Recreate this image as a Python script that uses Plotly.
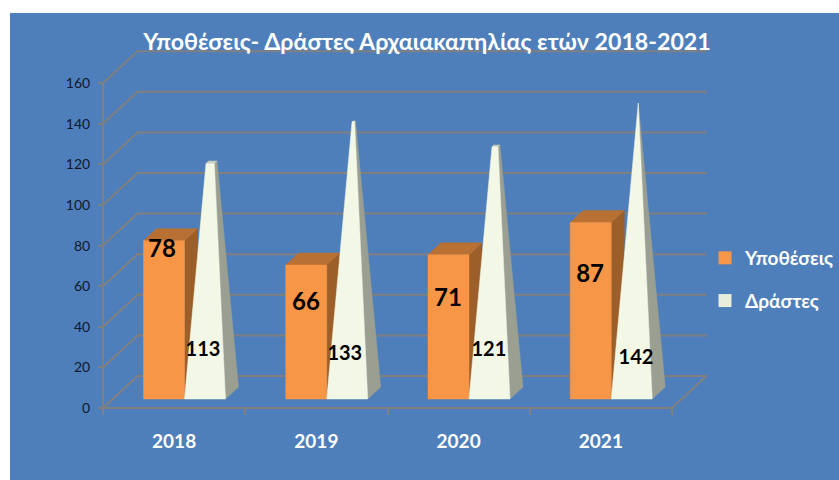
import plotly.graph_objects as go

years = ["2018", "2019", "2020", "2021"]
cases = [78, 66, 71, 87]          # Υποθέσεις
offenders = [113, 133, 121, 142]  # Δράστες
y_ticks = [0, 20, 40, 60, 80, 100, 120, 140, 160]
title = "Υποθέσεις- Δράστες Αρχαιακαπηλίας ετών 2018-2021"

W, H = 839, 480
X0_PX, CAT_PX = 103.0, 142.25
Y0_PX, UNIT_PX = 408.0, 2.03
FONT = "Lato, 'Noto Sans', sans-serif"

GRID = "#808080"
BLUE = "#4E7FBB"
OR_F, OR_S, OR_T = "#F79646", "#9C5F2A", "#B97033"
WH_F, WH_S, WH_T = "#F3F8E6", "#9A9F92", "#C6CBBB"

# projection depth, as data-space offsets
WALL_DX, WALL_DY = 34.5 / CAT_PX, 32 / UNIT_PX
BAR_DX, BAR_DY = 13 / CAT_PX, 12 / UNIT_PX
BASE = 9 / UNIT_PX
BAR_W = 41 / CAT_PX
BAR_L = 40.5 / CAT_PX
PYR_SCALE = 1.027


def poly(store, pts):
    for px, py in pts:
        store[0].append(px)
        store[1].append(py)
    store[0].append(pts[0][0]); store[1].append(pts[0][1])
    store[0].append(None); store[1].append(None)


fig = go.Figure()

# walls and floor
n = len(years)
gx, gy = [], []
for t in y_ticks:
    gx += [0, WALL_DX, n + WALL_DX, None]
    gy += [t, t + WALL_DY, t + WALL_DY, None]
gx += [0, n, n + WALL_DX, None, 0, 0]
gy += [0, 0, WALL_DY, None, 0, y_ticks[-1]]
fig.add_trace(go.Scatter(x=gx, y=gy, mode="lines", line=dict(color=GRID, width=2),
                         showlegend=False, hoverinfo="skip"))

# orange boxes
of, os_, ot = ([], []), ([], []), ([], [])
for i, v in enumerate(cases):
    a, b = i + BAR_L, i + BAR_L + BAR_W
    top = BASE + v
    poly(of, [(a, BASE), (b, BASE), (b, top), (a, top)])
    poly(os_, [(b, BASE), (b + BAR_DX, BASE + BAR_DY), (b + BAR_DX, top + BAR_DY), (b, top)])
    poly(ot, [(a, top), (b, top), (b + BAR_DX, top + BAR_DY), (a + BAR_DX, top + BAR_DY)])

# pyramids, cut at each value relative to the tallest one
wf, ws, wt = ([], []), ([], []), ([], [])
peak = max(offenders)
apex_y = BASE + peak * PYR_SCALE


def toward(p, apex, t):
    return (p[0] + (apex[0] - p[0]) * t, p[1] + (apex[1] - p[1]) * t)


for i, v in enumerate(offenders):
    a, b = i + BAR_L + BAR_W, i + BAR_L + 2 * BAR_W
    apex = ((a + b) / 2 + BAR_DX / 2, apex_y)
    t = v / peak
    fl, fr = (a, BASE), (b, BASE)
    br, bl = (b + BAR_DX, BASE + BAR_DY), (a + BAR_DX, BASE + BAR_DY)
    tfl, tfr, tbr, tbl = [toward(p, apex, t) for p in (fl, fr, br, bl)]
    poly(ws, [fr, br, tbr, tfr])
    poly(wt, [tfl, tfr, tbr, tbl])
    poly(wf, [fl, fr, tfr, tfl])

for store, color in [(os_, OR_S), (ot, OR_T), (of, OR_F), (ws, WH_S), (wt, WH_T), (wf, WH_F)]:
    fig.add_trace(go.Scatter(x=store[0], y=store[1], mode="lines", fill="toself",
                             fillcolor=color, line=dict(color=color, width=0.5),
                             showlegend=False, hoverinfo="skip"))

# value labels
case_label_pos = [(0.415, 77.1), (0.427, 51.0), (0.425, 53.0), (0.424, 64.8)]
off_label_pos = [(0.703, 28.2), (0.70, 26.2), (0.713, 28.2), (0.747, 24.2)]
fig.add_trace(go.Scatter(
    x=[i + p[0] for i, p in enumerate(case_label_pos)], y=[p[1] for p in case_label_pos],
    text=[str(v) for v in cases], mode="text",
    textfont=dict(family=FONT, size=24, color="black", weight="bold"),
    showlegend=False, hoverinfo="skip"))
fig.add_trace(go.Scatter(
    x=[i + p[0] for i, p in enumerate(off_label_pos)], y=[p[1] for p in off_label_pos],
    text=[str(v) for v in offenders], mode="text",
    textfont=dict(family=FONT, size=20, color="black", weight="bold"),
    showlegend=False, hoverinfo="skip"))

# legend entries
for name, color in [("Υποθέσεις", OR_F), ("Δράστες", "#E9EEDC")]:
    fig.add_trace(go.Scatter(x=[None], y=[None], mode="markers", name=name, legendgroup=name,
                             marker=dict(symbol="square", size=13, color=color)))

x_range = [-X0_PX / CAT_PX, (W - X0_PX) / CAT_PX]
y_range = [-(H - Y0_PX) / UNIT_PX, Y0_PX / UNIT_PX]

fig.update_layout(
    width=W, height=H, autosize=False,
    margin=dict(l=0, r=0, t=0, b=0, autoexpand=False),
    paper_bgcolor="white", plot_bgcolor="rgba(0,0,0,0)",
    font=dict(family=FONT),
    title=dict(text=title, x=427 / W, xanchor="center", y=1 - 42 / H, yanchor="middle",
               font=dict(family=FONT, size=23.2, color="white", weight="bold")),
    xaxis=dict(range=x_range, domain=[0, 1], anchor="free", position=1 - Y0_PX / H,
               showgrid=False, zeroline=False, showline=False,
               tickmode="array", tickvals=[i + 0.5 for i in range(n)], ticktext=years,
               ticks="outside", ticklen=16, tickcolor="rgba(0,0,0,0)",
               tickfont=dict(family=FONT, size=19, color="white", weight="bold"),
               minor=dict(tickmode="array", tickvals=list(range(n + 1)), ticks="outside",
                          ticklen=6, tickwidth=2, tickcolor=GRID, showgrid=False)),
    yaxis=dict(range=y_range, domain=[0, 1], anchor="free", position=X0_PX / W,
               showgrid=False, zeroline=False, showline=False,
               tickmode="array", tickvals=y_ticks, ticktext=[str(t) for t in y_ticks],
               ticks="outside", ticklen=5, tickwidth=2, tickcolor=GRID, ticklabelstandoff=5,
               tickfont=dict(family=FONT, size=14, color="#10192B")),
    legend=dict(x=705 / W, xanchor="left", y=1 - 239 / H, yanchor="top",
                bgcolor="rgba(0,0,0,0)", tracegroupgap=15, itemwidth=30,
                font=dict(family=FONT, size=19, color="white", weight="bold")),
    shapes=[dict(type="rect", xref="paper", yref="paper", x0=10 / W, x1=1, y0=0, y1=1 - 13 / H,
                 fillcolor=BLUE, line=dict(width=0), layer="below")],
)

fig.write_html("out.html", config=dict(displayModeBar=False),
               post_script="document.body.style.margin='0';document.body.style.overflow='hidden';")
